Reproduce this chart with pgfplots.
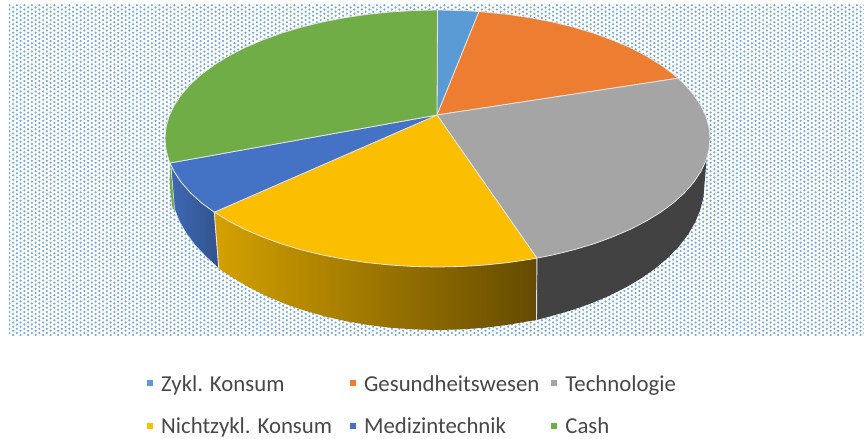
\documentclass[border=0pt]{standalone}
\usepackage{fontspec}
\setmainfont{Carlito}
\usepackage{pgfplots}
\pgfplotsset{compat=1.18}
\usetikzlibrary{patterns}
\pgfdeclarepatternformonly{hexdots}{\pgfqpoint{-1bp}{-1bp}}{\pgfqpoint{8.5bp}{5.2bp}}{\pgfqpoint{7.5bp}{4.2bp}}{%
  \pgfpathcircle{\pgfqpoint{1.875bp}{1.05bp}}{1.25bp}%
  \pgfpathcircle{\pgfqpoint{5.625bp}{3.15bp}}{1.25bp}%
  \pgfusepath{fill}}
\definecolor{cA}{HTML}{5B9BD5}
\definecolor{cB}{HTML}{ED7D31}
\definecolor{cC}{HTML}{A5A5A5}
\definecolor{cD}{HTML}{FBBE00}
\definecolor{cE}{HTML}{4472C4}
\definecolor{cF}{HTML}{70AD47}
\definecolor{rim}{HTML}{E4E4E4}
\begin{document}
\begin{tikzpicture}
\begin{axis}[
  scale only axis, width=864bp, height=439bp,
  xmin=0, xmax=864, ymin=0, ymax=439, y dir=reverse,
  hide axis, clip=false,
  legend image code/.code={\fill[#1,draw=none] (0bp,-2.6bp) rectangle (6bp,3.4bp);},
  legend columns=3,
  legend cell align=left,
  legend style={draw=none, fill=none, at={(axis cs:147,405)}, anchor=west,
    font=\fontsize{22.8bp}{24bp}\selectfont, text=black!72, inner sep=0pt,
    /tikz/every even column/.append style={column sep=9bp},
    /tikz/every odd column/.append style={column sep=5bp},
    /tikz/row sep=21bp,
    nodes={inner xsep=3bp}},
]
% page extent
\addplot[forget plot, draw=none] coordinates {(0,0)(864,439)};
% background
\addplot[forget plot, draw=none, pattern=hexdots, pattern color=cA!85!white]
  coordinates {(9,5)(864,5)(864,335)(9,335)} --cycle;

% sides: green sliver
\addplot[forget plot, draw=none, fill=cF]
  coordinates {(170,163)(169.6,184)(172.6,209)(175,210)} --cycle;
% side: medizintechnik
\addplot[forget plot, draw=rim, line width=0.5bp, left color=cE!92!black, right color=cE!72!black]
  coordinates {(170.8,163)(174.3,171.8)(181.4,182.4)(190.5,192.8)(201.5,202.8)(214.3,212.2)
  (218.8,268.5)(206.3,257.0)(195.5,245.7)(186.6,233.9)(179.6,221.8)(174.6,209.3)} --cycle;
% side: nichtzyklisch
\addplot[forget plot, draw=none, left color={rgb,255:red,212;green,161;blue,0}, right color={rgb,255:red,100;green,75;blue,0}]
  coordinates {(214.3,212.2)(228.8,221.1)(244.8,229.4)(262.3,236.9)(281.2,243.8)(301.2,249.8)(322.3,255.0)(344.3,259.2)(367.0,262.6)(390.2,265.0)(413.7,266.5)(437.5,267.0)(461.3,266.5)(484.8,265.0)(508.0,262.6)(530.7,259.2)(536.9,258.1)
  (536.5,320.0)(528.8,321.2)(506.6,325.0)(483.9,327.8)(460.8,329.4)(437.5,330.0)(414.2,329.4)(391.1,327.8)(368.4,325.0)(346.2,321.2)(324.7,316.3)(304.0,310.4)(284.4,303.6)(265.9,295.8)(248.7,287.2)(233.0,277.8)(218.8,268.5)} --cycle;
% side: technologie
\addplot[forget plot, draw=none, fill=black!74]
  coordinates {(536.9,258.1)(552.7,255.0)(573.8,249.8)(593.8,243.8)(612.7,236.9)(630.2,229.4)(646.2,221.1)(660.7,212.2)(673.5,202.8)(684.5,192.8)(693.6,182.4)(700.7,171.8)(705.9,160.8)(706.8,157)
  (704.5,184.0)(703.5,196.7)(700.4,209.3)(695.4,221.8)(688.4,233.9)(679.5,245.7)(668.7,257.0)(656.2,267.7)(642.0,277.8)(626.3,287.2)(609.1,295.8)(590.6,303.6)(571.0,310.4)(550.3,316.3)(536.5,320.0)} --cycle;
% seams
\addplot[forget plot, draw=rim, line width=0.9bp] coordinates {(536.9,258.1)(536.5,320.0)};
\addplot[forget plot, draw=rim, line width=0.9bp] coordinates {(214.3,212.2)(218.8,268.5)};

% top wedges
\addplot[draw=rim, line width=0.8bp, fill=cA] coordinates {(437,115)(437.5,10.0)(461.3,10.5)(479.0,11.5)} --cycle;
\addlegendentry{Zykl. Konsum}
\addplot[draw=rim, line width=0.8bp, fill=cB] coordinates {(437,115)(479.0,11.5)(508.0,14.4)(530.7,17.8)(552.7,22.0)(573.8,27.2)(593.8,33.2)(612.7,40.1)(630.2,47.6)(646.2,55.9)(660.7,64.8)(673.5,74.3)(678.1,78.2)} --cycle;
\addlegendentry{Gesundheitswesen}
\addplot[draw=rim, line width=0.8bp, fill=cC] coordinates {(437,115)(678.1,78.2)(684.5,84.2)(693.6,94.6)(700.7,105.2)(705.9,116.2)(709.0,127.3)(710.0,138.5)(709.0,149.7)(705.9,160.8)(700.7,171.8)(693.6,182.4)(684.5,192.8)(673.5,202.8)(660.7,212.2)(646.2,221.1)(630.2,229.4)(612.7,236.9)(593.8,243.8)(573.8,249.8)(552.7,255.0)(536.9,258.1)} --cycle;
\addlegendentry{Technologie}
\addplot[draw=rim, line width=0.8bp, fill=cD] coordinates {(437,115)(536.9,258.1)(530.7,259.2)(508.0,262.6)(484.8,265.0)(461.3,266.5)(437.5,267.0)(413.7,266.5)(390.2,265.0)(367.0,262.6)(344.3,259.2)(322.3,255.0)(301.2,249.8)(281.2,243.8)(262.3,236.9)(244.8,229.4)(228.8,221.1)(214.3,212.2)} --cycle;
\addlegendentry{Nichtzykl. Konsum\rule{6bp}{0pt}}
\addplot[draw=rim, line width=0.8bp, fill=cE] coordinates {(437,115)(214.3,212.2)(201.5,202.8)(190.5,192.8)(181.4,182.4)(174.3,171.8)(170.0,163.0)} --cycle;
\addlegendentry{Medizintechnik}
\addplot[draw=rim, line width=0.8bp, fill=cF] coordinates {(437,115)(170.0,163.0)(169.1,160.8)(166.0,149.7)(165.0,138.5)(166.0,127.3)(169.1,116.2)(174.3,105.2)(181.4,94.6)(190.5,84.2)(201.5,74.3)(214.3,64.8)(228.8,55.9)(244.8,47.6)(262.3,40.1)(281.2,33.2)(301.2,27.2)(322.3,22.0)(344.3,17.8)(367.0,14.4)(390.2,12.0)(413.7,10.5)(437.5,10.0)} --cycle;
\addlegendentry{Cash}
\end{axis}
\end{tikzpicture}
\end{document}
